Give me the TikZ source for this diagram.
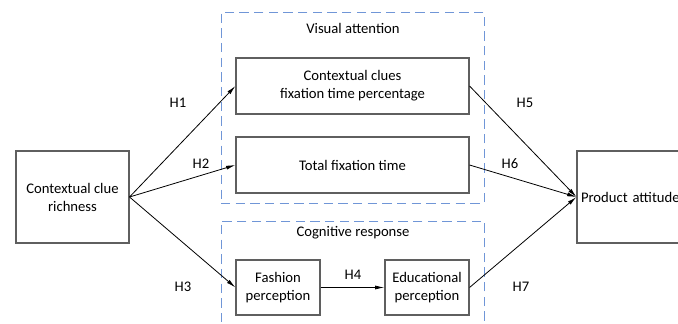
\documentclass[tikz,border=0pt]{standalone}
\usepackage{fontspec}
\setmainfont{Carlito}
\usetikzlibrary{arrows.meta}
\definecolor{grpblue}{RGB}{112,150,215}
\definecolor{boxgray}{RGB}{95,95,95}
\tikzset{
	box/.style={draw=boxgray, thick, align=center, inner sep=2pt, font=\fontsize{11}{13.5}\selectfont},
	grp/.style={draw=grpblue, dash pattern=on 7pt off 4pt, semithick},
	arr/.style={-{Latex[length=7pt,width=3pt]}, semithick},
	lbl/.style={font=\fontsize{11}{13}\selectfont}
}
\begin{document}
\begin{tikzpicture}[x=0.75pt, y=-0.75pt]
	\def\u{0.75pt}
	\useasboundingbox (0,0) rectangle (678,324);
	\clip (0,0) rectangle (678,324);
	
	% Grupos
	\node[grp, minimum width=263*\u, minimum height=191*\u] (visual) at (352.5,107.5) {};
	\node[grp, minimum width=263*\u, minimum height=130*\u] (cognitive) at (352.5,286) {};
	\node[lbl] (visuallbl) at (353,28) {Visual attention};
	\node[lbl] (cognitivelbl) at (353,233) {Cognitive response};
	
	% Cajas
	\node[box, minimum width=113*\u, minimum height=92*\u] (rich) at (72.5,197) {Contextual clue\\richness};
	\node[box, minimum width=233*\u, minimum height=56*\u] (clues) at (352.5,86) {Contextual clues\\fixation time percentage};
	\node[box, minimum width=233*\u, minimum height=56*\u] (total) at (352.5,165) {Total fixation time};
	\node[box, minimum width=84*\u, minimum height=55*\u] (fashion) at (278,287.5) {Fashion\\perception};
	\node[box, minimum width=84*\u, minimum height=55*\u] (edu) at (427,287.5) {Educational\\perception};
	\node[box, minimum width=113*\u, minimum height=92*\u, text width=105*\u, align=left] (attitude) at (633.5,197) {Product attitude};
	
	% Flechas
	\draw[arr] (rich.east) -- (clues.west);
	\draw[arr] (rich.east) -- (total.west);
	\draw[arr] (rich.east) -- (fashion.west);
	\draw[arr] (fashion.east) -- (edu.west);
	\draw[arr] (clues.east) -- (attitude.west);
	\draw[arr] (total.east) -- (attitude.west);
	\draw[arr] (edu.east) -- (attitude.west);
	
	% Etiquetas
	\node[lbl] (h1) at (178,103) {H1};
	\node[lbl] (h2) at (201,164) {H2};
	\node[lbl] (h3) at (183,287) {H3};
	\node[lbl] (h4) at (353,275) {H4};
	\node[lbl] (h5) at (525,103) {H5};
	\node[lbl] (h6) at (510,164) {H6};
	\node[lbl] (h7) at (521,287) {H7};
\end{tikzpicture}
\end{document}
